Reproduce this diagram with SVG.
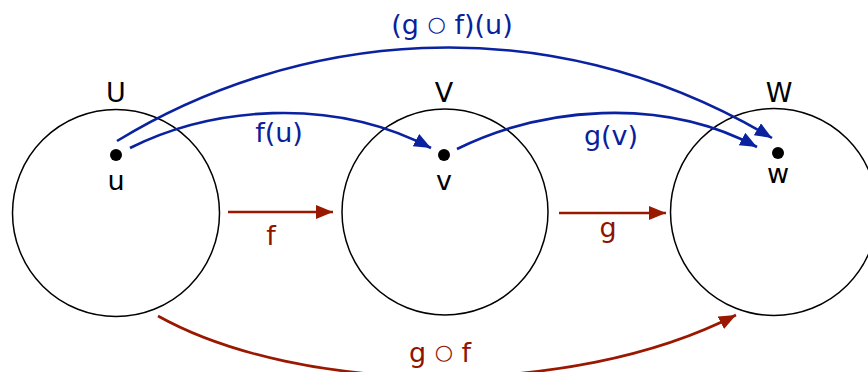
<svg xmlns="http://www.w3.org/2000/svg" width="868" height="372" viewBox="0 0 868 372">
<style>
  text { font-family: "DejaVu Sans", sans-serif; font-size: 27px; text-anchor: middle; }
  .ring { font-size: 21px; }
  .set { fill: none; stroke: #000; stroke-width: 1.5; }
  .blk { fill: #000; }
  .blue { fill: #0a1f9c; }
  .red { fill: #8f1400; }
  .bl { fill: none; stroke: #0a22a0; stroke-width: 2.6; }
  .rl { fill: none; stroke: #9a1800; stroke-width: 2.6; }
</style>
<defs>
  <marker id="hb" markerUnits="userSpaceOnUse" markerWidth="20" markerHeight="16" refX="17" refY="7" orient="auto">
    <path d="M0,0 L17,7 L0,14 z" fill="#0a22a0"/>
  </marker>
  <marker id="hr" markerUnits="userSpaceOnUse" markerWidth="20" markerHeight="16" refX="17" refY="7" orient="auto">
    <path d="M0,0 L17,7 L0,14 z" fill="#9a1800"/>
  </marker>
</defs>
<g id="nodeU">
  <circle class="set" cx="116" cy="213" r="103.5"/>
  <text class="blk" x="116" y="102">U</text>
  <circle class="blk" cx="116" cy="155" r="6"/>
  <text class="blk" x="116" y="190">u</text>
</g>
<g id="nodeV">
  <circle class="set" cx="445" cy="212" r="103"/>
  <text class="blk" x="444" y="102">V</text>
  <circle class="blk" cx="444" cy="155" r="6"/>
  <text class="blk" x="444" y="190">v</text>
</g>
<g id="nodeW">
  <circle class="set" cx="774" cy="212" r="103.5"/>
  <text class="blk" x="779" y="102">W</text>
  <circle class="blk" cx="778" cy="153" r="6"/>
  <text class="blk" x="778" y="183">w</text>
</g>
<g id="connectors">
  <path class="bl" d="M117,141 C290,35 540,0 772,138" marker-end="url(#hb)"/>
  <path class="bl" d="M130,148 C210,108 330,95 431,148" marker-end="url(#hb)"/>
  <path class="bl" d="M457,149 C540,108 660,95 757,147" marker-end="url(#hb)"/>
  <path class="rl" d="M228,212 L333,212" marker-end="url(#hr)"/>
  <path class="rl" d="M559,213 L666,213" marker-end="url(#hr)"/>
  <path class="rl" d="M158,316 C300,395 570,400 736,315" marker-end="url(#hr)"/>
  <text class="blue" x="452" y="34">(g <tspan class="ring" dy="-3">○</tspan><tspan dy="3"> f)(u)</tspan></text>
  <text class="blue" x="279" y="142">f(u)</text>
  <text class="blue" x="611" y="145">g(v)</text>
  <text class="red" x="271" y="245">f</text>
  <text class="red" x="608" y="237">g</text>
  <text class="red" x="440" y="362">g <tspan class="ring" dy="-3">○</tspan><tspan dy="3"> f</tspan></text>
</g>
</svg>
